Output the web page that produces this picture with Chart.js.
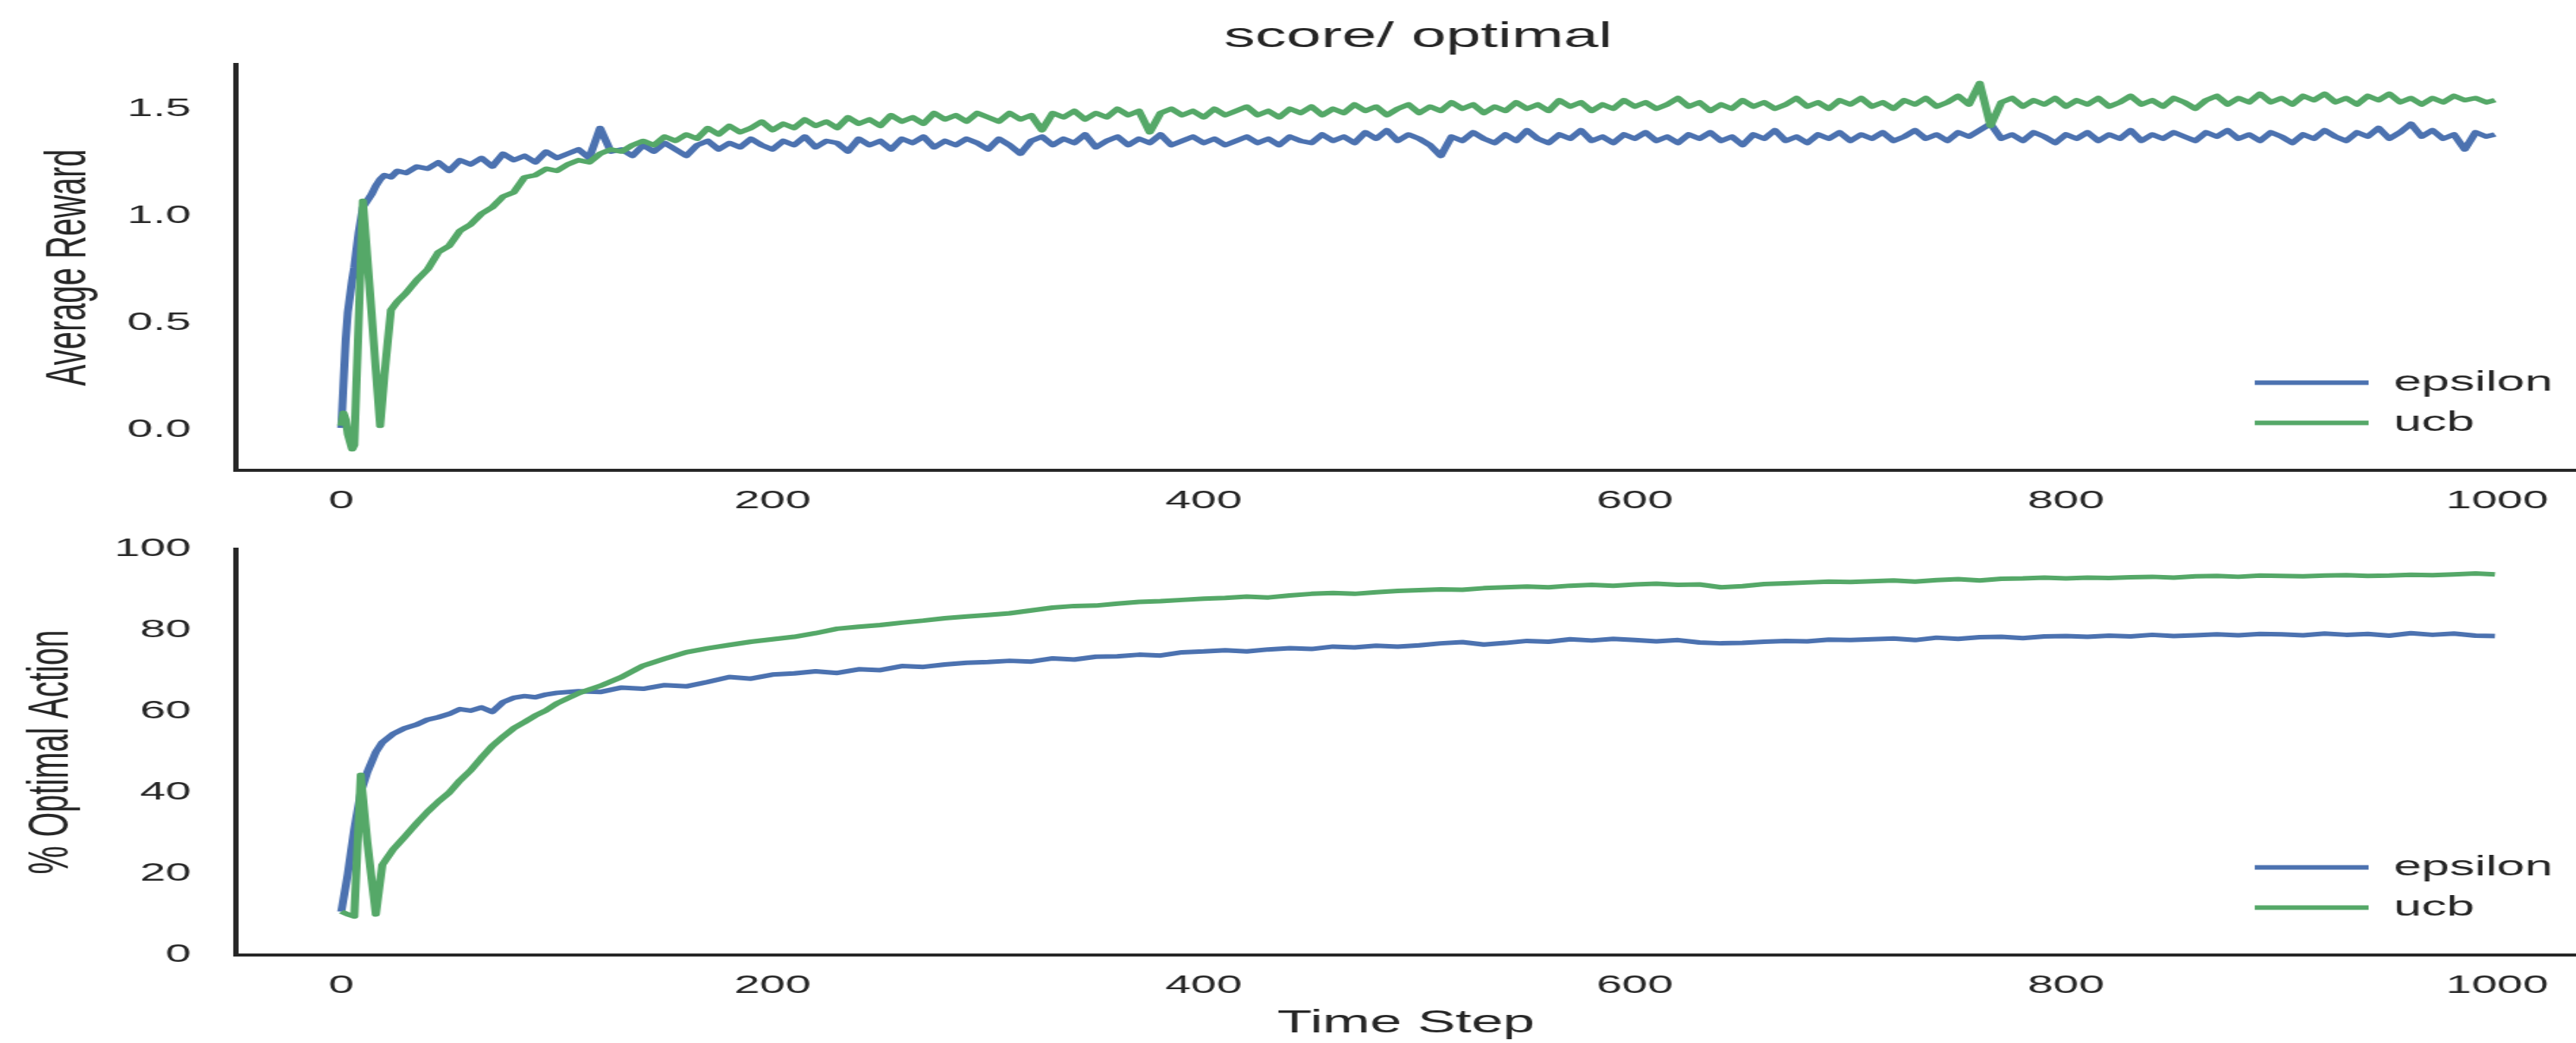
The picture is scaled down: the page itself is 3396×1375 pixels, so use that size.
<!DOCTYPE html>
<html>
<head>
<meta charset="utf-8">
<title>score/ optimal</title>
<script src="https://cdn.jsdelivr.net/npm/chart.js@4.4.1/dist/chart.umd.min.js"></script>
<style>
  html, body { margin: 0; padding: 0; background: #fff; }
  body { width: 3396px; height: 1375px; position: relative; overflow: hidden; }
  canvas { position: absolute; left: 0; }
</style>
</head>
<body>
<!-- the reference is stretched sideways, so draw narrow and let CSS widen it -->
<canvas id="rewardChart" width="1900" height="690" style="top:0;width:3396px;height:690px"></canvas>
<canvas id="optimalChart" width="1900" height="685" style="top:690px;width:3396px;height:685px"></canvas>
<script>
// time steps sampled for the top panel
const stepsTop = [
  0, 1, 2, 3, 5, 6, 8, 10, 12, 14, 16, 18, 20, 23, 26, 30,
  35, 40, 45, 50, 55, 60, 65, 70, 75, 80, 85, 90, 95, 100,
  105, 110, 115, 120, 125, 130, 135, 140, 145, 150, 155, 160, 165, 170, 175, 180, 185, 190, 195, 200,
  205, 210, 215, 220, 225, 230, 235, 240, 245, 250, 255, 260, 265, 270, 275, 280, 285, 290, 295, 300,
  305, 310, 315, 320, 325, 330, 335, 340, 345, 350, 355, 360, 365, 370, 375, 380, 385, 390, 395, 400,
  405, 410, 415, 420, 425, 430, 435, 440, 445, 450, 455, 460, 465, 470, 475, 480, 485, 490, 495, 500,
  505, 510, 515, 520, 525, 530, 535, 540, 545, 550, 555, 560, 565, 570, 575, 580, 585, 590, 595, 600,
  605, 610, 615, 620, 625, 630, 635, 640, 645, 650, 655, 660, 665, 670, 675, 680, 685, 690, 695, 700,
  705, 710, 715, 720, 725, 730, 735, 740, 745, 750, 755, 760, 765, 770, 775, 780, 785, 790, 795, 800,
  805, 810, 815, 820, 825, 830, 835, 840, 845, 850, 855, 860, 865, 870, 875, 880, 885, 890, 895, 900,
  905, 910, 915, 920, 925, 930, 935, 940, 945, 950, 955, 960, 965, 970, 975, 980, 985, 990, 995, 999
];

const epsilonReward = [
  0.01, 0.22, 0.42, 0.55, 0.70, 0.76, 0.92, 1.04, 1.07, 1.10, 1.14, 1.17, 1.19, 1.18, 1.21, 1.20,
  1.23, 1.22, 1.25, 1.21, 1.26, 1.24, 1.27, 1.23, 1.29, 1.26, 1.28, 1.25, 1.30, 1.27,
  1.29, 1.31, 1.27, 1.41, 1.30, 1.31, 1.28, 1.33, 1.30, 1.34, 1.31, 1.28, 1.33, 1.35, 1.31, 1.34, 1.32, 1.36, 1.33, 1.31,
  1.35, 1.33, 1.37, 1.32, 1.35, 1.34, 1.30, 1.36, 1.33, 1.35, 1.31, 1.36, 1.34, 1.37, 1.32, 1.35, 1.33, 1.36, 1.34, 1.31,
  1.36, 1.33, 1.29, 1.35, 1.37, 1.33, 1.36, 1.34, 1.38, 1.32, 1.35, 1.37, 1.33, 1.36, 1.34, 1.38, 1.33, 1.35, 1.37, 1.34,
  1.36, 1.33, 1.35, 1.37, 1.34, 1.36, 1.33, 1.37, 1.35, 1.34, 1.38, 1.35, 1.37, 1.34, 1.39, 1.36, 1.40, 1.35, 1.38, 1.36,
  1.33, 1.28, 1.37, 1.35, 1.39, 1.36, 1.34, 1.38, 1.35, 1.40, 1.36, 1.34, 1.38, 1.36, 1.40, 1.35, 1.37, 1.34, 1.38, 1.36,
  1.39, 1.35, 1.37, 1.34, 1.38, 1.36, 1.39, 1.35, 1.37, 1.33, 1.38, 1.36, 1.40, 1.35, 1.37, 1.34, 1.38, 1.36, 1.39, 1.35,
  1.38, 1.36, 1.39, 1.35, 1.37, 1.40, 1.36, 1.38, 1.35, 1.39, 1.37, 1.40, 1.43, 1.36, 1.38, 1.35, 1.39, 1.37, 1.34, 1.38,
  1.36, 1.39, 1.35, 1.38, 1.36, 1.40, 1.35, 1.38, 1.36, 1.39, 1.37, 1.35, 1.39, 1.37, 1.40, 1.36, 1.38, 1.35, 1.39, 1.37,
  1.34, 1.38, 1.36, 1.40, 1.37, 1.35, 1.39, 1.37, 1.41, 1.36, 1.39, 1.43, 1.37, 1.40, 1.36, 1.38, 1.31, 1.39, 1.37, 1.38
];

const ucbReward = [
  0.02, 0.08, 0.05, -0.02, -0.09, -0.07, 0.50, 1.07, 0.81, 0.55, 0.28, 0.02, 0.26, 0.56, 0.60, 0.64,
  0.70, 0.75, 0.83, 0.86, 0.93, 0.96, 1.01, 1.04, 1.09, 1.11, 1.18, 1.19, 1.22, 1.21,
  1.24, 1.26, 1.25, 1.29, 1.31, 1.30, 1.33, 1.35, 1.33, 1.37, 1.35, 1.38, 1.36, 1.41, 1.38, 1.42, 1.39, 1.41, 1.44, 1.40,
  1.43, 1.41, 1.45, 1.42, 1.44, 1.41, 1.46, 1.43, 1.45, 1.42, 1.47, 1.44, 1.46, 1.43, 1.48, 1.45, 1.47, 1.44, 1.48, 1.46,
  1.44, 1.48, 1.45, 1.47, 1.40, 1.48, 1.46, 1.49, 1.45, 1.48, 1.46, 1.50, 1.47, 1.49, 1.39, 1.48, 1.50, 1.47, 1.49, 1.46,
  1.50, 1.47, 1.49, 1.51, 1.47, 1.49, 1.46, 1.50, 1.48, 1.51, 1.47, 1.50, 1.48, 1.52, 1.49, 1.51, 1.47, 1.50, 1.52, 1.48,
  1.51, 1.49, 1.53, 1.50, 1.52, 1.48, 1.51, 1.49, 1.53, 1.50, 1.52, 1.49, 1.54, 1.51, 1.53, 1.49, 1.52, 1.50, 1.54, 1.51,
  1.53, 1.50, 1.52, 1.55, 1.51, 1.53, 1.49, 1.52, 1.50, 1.54, 1.51, 1.53, 1.50, 1.52, 1.55, 1.51, 1.53, 1.50, 1.54, 1.52,
  1.55, 1.51, 1.53, 1.50, 1.54, 1.52, 1.55, 1.51, 1.53, 1.56, 1.52, 1.62, 1.42, 1.53, 1.55, 1.51, 1.54, 1.52, 1.55, 1.51,
  1.54, 1.52, 1.55, 1.51, 1.53, 1.56, 1.52, 1.54, 1.51, 1.55, 1.53, 1.50, 1.54, 1.56, 1.52, 1.55, 1.53, 1.57, 1.53, 1.55,
  1.52, 1.56, 1.54, 1.57, 1.53, 1.55, 1.52, 1.56, 1.54, 1.57, 1.53, 1.55, 1.52, 1.55, 1.53, 1.56, 1.54, 1.55, 1.53, 1.54
];

// time steps sampled for the bottom panel (smoother curves)
const stepsBottom = [
  0, 3, 6, 9, 12, 16, 19, 24, 29,
  35, 40, 45, 50, 55, 60, 65, 70, 75, 80, 85, 90, 95, 100,
  110, 120, 130, 140, 150, 160, 170, 180, 190, 200,
  210, 220, 230, 240, 250, 260, 270, 280, 290, 300,
  310, 320, 330, 340, 350, 360, 370, 380, 390, 400,
  410, 420, 430, 440, 450, 460, 470, 480, 490, 500,
  510, 520, 530, 540, 550, 560, 570, 580, 590, 600,
  610, 620, 630, 640, 650, 660, 670, 680, 690, 700,
  710, 720, 730, 740, 750, 760, 770, 780, 790, 800,
  810, 820, 830, 840, 850, 860, 870, 880, 890, 900,
  910, 920, 930, 940, 950, 960, 970, 980, 990, 999
];

const epsilonOptimal = [
  10.7, 20.0, 31.0, 40.0, 45.0, 50.0, 52.4, 54.5, 55.8,
  56.8, 58.0, 58.6, 59.4, 60.6, 60.2, 61.0, 59.9, 62.3, 63.4, 63.8, 63.5, 64.2, 64.6,
  65.0, 64.8, 65.9, 65.6, 66.5, 66.2, 67.3, 68.5, 68.1, 69.1,
  69.4, 69.9, 69.5, 70.4, 70.2, 71.2, 71.0, 71.6, 72.0, 72.2,
  72.5, 72.3, 73.1, 72.8, 73.5, 73.6, 74.0, 73.8, 74.6, 74.8,
  75.1, 74.8, 75.3, 75.6, 75.4, 76.0, 75.8, 76.2, 76.0, 76.3,
  76.8, 77.1, 76.5, 76.9, 77.4, 77.2, 77.8, 77.5, 77.9, 77.6,
  77.3, 77.6, 77.0, 76.8, 76.9, 77.2, 77.4, 77.3, 77.7, 77.6,
  77.8, 78.0, 77.6, 78.2, 77.9, 78.3, 78.4, 78.1, 78.5, 78.6,
  78.4, 78.7, 78.5, 78.9, 78.6, 78.8, 79.0, 78.8, 79.1, 79.0,
  78.8, 79.2, 78.9, 79.1, 78.7, 79.3, 78.9, 79.2, 78.7, 78.6
];

const ucbOptimal = [
  10.7, 10.0, 9.5, 44.4, 28.0, 10.0, 22.2, 26.0, 28.9,
  32.5, 35.3, 37.8, 40.0, 43.0, 45.5, 48.6, 51.5, 53.8, 55.9, 57.4, 59.0, 60.3, 62.0,
  64.5, 66.3, 68.5, 71.3, 73.0, 74.6, 75.6, 76.4, 77.2, 77.8,
  78.4, 79.3, 80.4, 80.9, 81.3, 81.9, 82.4, 83.0, 83.4, 83.8,
  84.2, 84.9, 85.6, 86.0, 86.1, 86.6, 87.0, 87.2, 87.5, 87.8,
  88.0, 88.3, 88.1, 88.6, 89.0, 89.2, 89.0, 89.4, 89.7, 89.9,
  90.1, 90.0, 90.4, 90.6, 90.8, 90.6, 91.0, 91.2, 91.0, 91.3,
  91.5, 91.2, 91.3, 90.6, 90.9, 91.4, 91.6, 91.8, 92.0, 91.9,
  92.1, 92.3, 92.0, 92.4, 92.6, 92.3, 92.7, 92.8, 93.0, 92.8,
  93.0, 92.9, 93.1, 93.2, 93.0, 93.3, 93.4, 93.2, 93.5, 93.4,
  93.3, 93.5, 93.6, 93.4, 93.5, 93.7, 93.6, 93.8, 94.0, 93.8
];

const xTicks = [0, 200, 400, 600, 800, 1000];
const rewardTicks = [0, 0.5, 1.0, 1.5];
const optimalTicks = [0, 20, 40, 60, 80, 100];
const seriesNames = ['epsilon', 'ucb'];
const seriesColors = ['#4C72B0', '#55A868'];

const ink = '#262626';
Chart.defaults.font.family = '"Liberation Sans", Arial, Helvetica, sans-serif';
Chart.defaults.color = ink;

function toPoints(steps, values) {
    return steps.map((t, i) => ({ x: t, y: values[i] }));
}

function fixedTicks(values) {
    return function(scale) {
        scale.ticks = values.map(v => ({ value: v }));
    };
}

function lineDataset(i, steps, values) {
    return {
        label: seriesNames[i],
        data: toPoints(steps, values),
        borderColor: seriesColors[i],
        backgroundColor: seriesColors[i],
        borderWidth: 6,
        borderJoinStyle: 'round',
        pointRadius: 0,
        tension: 0,
        fill: false,
        order: 1 - i   // ucb drawn over epsilon
    };
}

// move the legend to the lower right of the plot, and the title over the plot
const placeBoxes = {
    id: 'placeBoxes',
    afterLayout(chart, args, opts) {
        const lg = chart.legend;
        lg.left = opts.legendLeft;
        lg.top = opts.legendTop;
        lg.right = lg.left + lg.width;
        lg.bottom = lg.top + lg.height;
        if (opts.titleLeft !== undefined && chart.titleBlock) {
            chart.titleBlock.left = opts.titleLeft;
        }
    }
};

const legendOptions = {
    position: 'chartArea',
    align: 'start',
    labels: {
        usePointStyle: true,
        pointStyle: 'line',
        pointStyleWidth: 84,
        padding: 16,
        color: ink,
        font: { size: 37 },
        sort: (a, b) => a.datasetIndex - b.datasetIndex
    }
};

function xScale(height, withTitle) {
    return {
        type: 'linear',
        min: -48.9,
        max: 1036.6,
        afterBuildTicks: fixedTicks(xTicks),
        afterFit: s => { s.height = height; s.paddingLeft = 0; s.paddingRight = 0; },
        grid: { display: false, drawTicks: false },
        border: { display: true, color: ink, width: 4 },
        ticks: {
            font: { size: 34 },
            padding: 20,
            maxRotation: 0,
            autoSkip: false,
            callback: v => String(v)
        },
        title: {
            display: withTitle,
            text: 'Time Step',
            font: { size: 42 },
            padding: { top: 0, bottom: 0 }
        }
    };
}

function yScale(min, max, ticks, label, titlePad, fmt) {
    return {
        min: min,
        max: max,
        afterBuildTicks: fixedTicks(ticks),
        afterFit: s => { s.width = 174; s.paddingTop = 0; s.paddingBottom = 0; },
        grid: { display: false, drawTicks: false },
        border: { display: true, color: ink, width: 4 },
        ticks: { font: { size: 34 }, padding: 33, callback: fmt },
        title: {
            display: true,
            text: label,
            font: { size: 42 },
            padding: { top: titlePad, bottom: 0 }
        }
    };
}

new Chart(document.getElementById('rewardChart'), {
    type: 'line',
    data: {
        datasets: [
            lineDataset(0, stepsTop, epsilonReward),
            lineDataset(1, stepsTop, ucbReward)
        ]
    },
    options: {
        responsive: false,
        animation: false,
        devicePixelRatio: 1,
        events: [],
        plugins: {
            title: {
                display: true,
                text: 'score/ optimal',
                color: ink,
                font: { size: 46, weight: 'normal' },
                padding: { top: 22, bottom: 8 }
            },
            legend: legendOptions,
            tooltip: { enabled: false },
            placeBoxes: { legendLeft: 1647, legendTop: 470, titleLeft: 192 }
        },
        scales: {
            x: xScale(70, false),
            y: yScale(-0.188, 1.706, rewardTicks, 'Average Reward', 26, v => v.toFixed(1))
        }
    },
    plugins: [placeBoxes]
});

new Chart(document.getElementById('optimalChart'), {
    type: 'line',
    data: {
        datasets: [
            lineDataset(0, stepsBottom, epsilonOptimal),
            lineDataset(1, stepsBottom, ucbOptimal)
        ]
    },
    options: {
        responsive: false,
        animation: false,
        devicePixelRatio: 1,
        events: [],
        layout: { padding: { top: 34 } },
        plugins: {
            legend: legendOptions,
            tooltip: { enabled: false },
            placeBoxes: { legendLeft: 1647, legendTop: 419 }
        },
        scales: {
            x: xScale(116, true),
            y: yScale(0, 100, optimalTicks, '% Optimal Action', 13, v => String(v))
        }
    },
    plugins: [placeBoxes]
});
</script>
</body>
</html>
